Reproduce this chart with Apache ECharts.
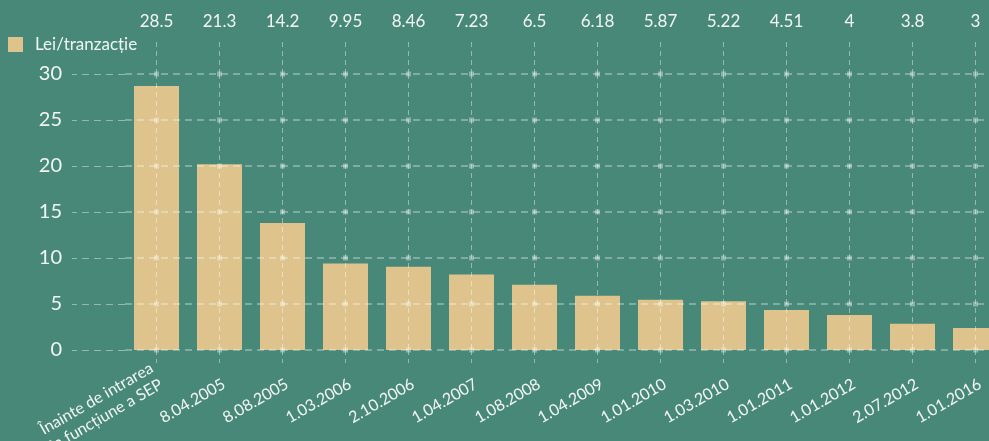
<!DOCTYPE html>
<html><head><meta charset="utf-8">
<script src="https://cdn.jsdelivr.net/npm/echarts@6/dist/echarts.min.js"></script>
<style>html,body{margin:0;padding:0;background:#478878;}#c{width:989px;height:441px;}</style>
</head><body><div id="c"></div>
<script>
const categories = ['Înainte de intrarea\nîn funcțiune a SEP','8.04.2005','8.08.2005','1.03.2006','2.10.2006','1.04.2007','1.08.2008','1.04.2009','1.01.2010','1.03.2010','1.01.2011','1.01.2012','2.07.2012','1.01.2016'];
const topLabels = ['28.5','21.3','14.2','9.95','8.46','7.23','6.5','6.18','5.87','5.22','4.51','4','3.8','3'];
const values = [28.7, 20.2, 13.8, 9.4, 9.05, 8.2, 7.1, 5.9, 5.45, 5.3, 4.35, 3.8, 2.85, 2.4];
const yTicks = [0, 5, 10, 15, 20, 25, 30];
const seriesName = 'Lei/tranzacție';

const FONT = 'Lato, "Noto Sans", sans-serif';
const TXT = '#f2f5f3';
const GRID = 'rgba(255,255,255,0.42)';
const dots = [];
categories.forEach(c => yTicks.forEach(t => dots.push([c, t])));

const chart = echarts.init(document.getElementById('c'));
chart.setOption({
  backgroundColor: '#478878',
  animation: false,
  textStyle: { fontFamily: FONT },
  legend: {
    left: 3, top: 31, itemWidth: 15, itemHeight: 15, icon: 'rect', itemGap: 10,
    textStyle: { color: TXT, fontSize: 17, fontFamily: FONT, padding: [0, 0, 0, 7] },
    data: [seriesName]
  },
  grid: { left: 125, right: -18, top: 74, bottom: 91, outerBoundsMode: 'none', containLabel: false },
  xAxis: [{
    type: 'category', data: categories, position: 'bottom', z: 5,
    axisLine: { show: false },
    axisTick: { show: true, alignWithLabel: true, length: 13, lineStyle: { color: GRID, type: [5, 4] } },
    splitLine: { show: true, alignWithLabel: true, lineStyle: { color: GRID, type: [5, 4], width: 1 } },
    axisLabel: {
      color: TXT, fontSize: 16, rotate: 30, margin: 25, interval: 0, fontFamily: FONT, lineHeight: 19, verticalAlign: 'middle',
      formatter: v => v.indexOf('\n') >= 0 ? v : '{s|' + v + '}',
      rich: { s: { color: TXT, fontSize: 16, fontFamily: FONT, lineHeight: 19, padding: [18, 0, 0, 0] } }
    }
  }, {
    type: 'category', data: topLabels, position: 'top', z: 5,
    axisLine: { show: false },
    axisTick: { show: true, alignWithLabel: true, length: 33, lineStyle: { color: GRID, type: [5, 4] } },
    axisLabel: { color: TXT, fontSize: 17, margin: 44, interval: 0, fontFamily: FONT }
  }],
  yAxis: {
    type: 'value', min: 0, max: 30, interval: 5, z: 5,
    axisLine: { show: false },
    axisTick: { show: true, length: 53, lineStyle: { color: GRID, type: [7, 5] } },
    splitLine: { show: true, lineStyle: { color: GRID, type: [7, 5], width: 1.5 } },
    axisLabel: { color: TXT, fontSize: 20, margin: 63, fontFamily: FONT }
  },
  series: [{
    name: seriesName, type: 'bar', data: values, barWidth: 45, z: 2,
    itemStyle: { color: '#dec48c' }
  }, {
    type: 'scatter', data: dots, symbol: 'rect', symbolSize: 5, z: 10, silent: true,
    itemStyle: { color: 'rgba(255,255,255,0.45)' }, legendHoverLink: false
  }]
});
</script></body></html>
